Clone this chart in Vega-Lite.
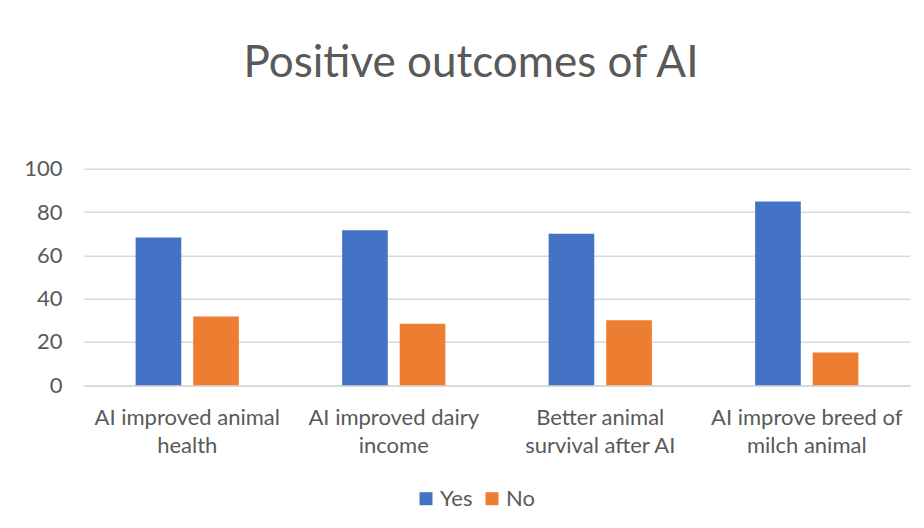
{
  "$schema": "https://vega.github.io/schema/vega-lite/v6.json",
  "autosize": "none",
  "width": 826,
  "height": 216.6,
  "padding": {"left": 84, "top": 168.7, "right": 14, "bottom": 142.7},
  "background": "white",
  "title": {
    "text": "Positive outcomes of AI",
    "font": "Lato",
    "fontSize": 44,
    "fontWeight": "normal",
    "color": "#595959",
    "anchor": "middle",
    "dx": -26,
    "offset": 72
  },
  "data": {
    "values": [
      {"outcome": "AI improved animal health", "response": "Yes", "value": 68.2},
      {"outcome": "AI improved animal health", "response": "No", "value": 31.8},
      {"outcome": "AI improved dairy income", "response": "Yes", "value": 71.6},
      {"outcome": "AI improved dairy income", "response": "No", "value": 28.4},
      {"outcome": "Better animal survival after AI", "response": "Yes", "value": 70.0},
      {"outcome": "Better animal survival after AI", "response": "No", "value": 30.0},
      {"outcome": "AI improve breed of milch animal", "response": "Yes", "value": 84.8},
      {"outcome": "AI improve breed of milch animal", "response": "No", "value": 15.2}
    ]
  },
  "mark": {"type": "bar"},
  "encoding": {
    "x": {
      "field": "outcome",
      "type": "nominal",
      "sort": null,
      "scale": {"paddingInner": 0.5, "paddingOuter": 0.25},
      "axis": {
        "title": null,
        "labelAngle": 0,
        "labelFont": "Lato",
        "labelFontSize": 22,
        "labelColor": "#595959",
        "labelPadding": 22,
        "labelLineHeight": 28,
        "labelBaseline": "top",
        "labelLimit": 400,
        "ticks": false,
        "domain": true,
        "domainColor": "#d9d9d9",
        "domainWidth": 1.5,
        "grid": false,
        "labelExpr": "datum.label == 'AI improved animal health' ? ['AI improved animal', 'health'] : datum.label == 'AI improved dairy income' ? ['AI improved dairy', 'income'] : datum.label == 'Better animal survival after AI' ? ['Better animal', 'survival after AI'] : ['AI improve breed of', 'milch animal']"
      }
    },
    "xOffset": {
      "field": "response",
      "type": "nominal",
      "sort": ["Yes", "No"],
      "scale": {"paddingInner": 0.207, "paddingOuter": 0}
    },
    "y": {
      "field": "value",
      "type": "quantitative",
      "scale": {"domain": [0, 100], "nice": false},
      "axis": {
        "title": null,
        "values": [0, 20, 40, 60, 80, 100],
        "labelFont": "Lato",
        "labelFontSize": 22,
        "labelColor": "#595959",
        "labelPadding": 22,
        "ticks": false,
        "domain": false,
        "gridColor": "#d9d9d9",
        "gridWidth": 1.5
      }
    },
    "color": {
      "field": "response",
      "type": "nominal",
      "sort": ["Yes", "No"],
      "scale": {"domain": ["Yes", "No"], "range": ["#4472C4", "#ED7D31"]},
      "legend": {
        "title": null,
        "orient": "none",
        "direction": "horizontal",
        "legendX": 331,
        "legendY": 319,
        "symbolType": "square",
        "symbolSize": 169,
        "symbolStrokeWidth": 0,
        "labelFont": "Lato",
        "labelFontSize": 22,
        "labelColor": "#595959",
        "labelOffset": 3,
        "columnPadding": 8
      }
    }
  },
  "config": {
    "view": {"stroke": null}
  }
}
